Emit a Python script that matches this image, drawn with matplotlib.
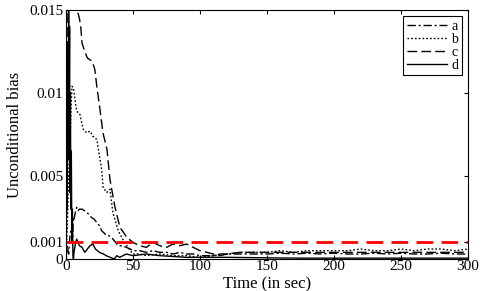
import numpy as np
import matplotlib
matplotlib.use("Agg")
import matplotlib.pyplot as plt

plt.rcParams['font.family'] = ['Liberation Serif', 'DejaVu Serif']

# curve a (dash-dot)
t_a = [0, 1, 2, 3, 4, 5, 5.5, 6, 7, 8, 9, 10, 12, 14, 15.4, 17, 19, 21, 23, 25, 26.6, 28, 30.4, 32, 34, 36, 39,
       42, 45, 48, 50, 55, 60, 65, 70, 75, 80, 85, 90, 95, 100, 105, 110, 115, 120, 125, 130, 140, 150, 160,
       170, 180, 190, 200, 210, 220, 230, 240, 250, 260, 270, 280, 290, 300]
v_a = [0, 0.0008, 0.0003, 0.0014, 0.0018, 0.0012, 0.0025, 0.0024, 0.0028, 0.0031, 0.0029, 0.0030, 0.0030,
       0.0029, 0.0028, 0.0027, 0.0025, 0.0024, 0.0022, 0.0020, 0.0017, 0.0016, 0.0014, 0.0014, 0.0013, 0.0011,
       0.0008, 0.0008, 0.0007, 0.0006, 0.0005, 0.0005, 0.0004, 0.0005, 0.0004, 0.0004, 0.0003, 0.0004, 0.0003,
       0.0003, 0.0002, 0.0002, 0.0002, 0.0003, 0.0003, 0.0003, 0.0003, 0.0003, 0.0003, 0.00035, 0.0003,
       0.00035, 0.0003, 0.00035, 0.0003, 0.0003, 0.00035, 0.0003, 0.00035, 0.0003, 0.0003, 0.00035, 0.0003, 0.0003]

# curve b (dotted)
t_b = [0, 1, 2, 3, 4, 4.5, 5.6, 6.7, 8, 10.4, 12.9, 15.4, 18, 20, 23, 25, 26.6, 27.8, 30.4, 32.8, 35, 39, 43,
       48, 50, 55, 60, 70, 80, 90, 100, 110, 120, 130, 140, 150, 160, 170, 180, 190, 200, 210, 220, 230, 240,
       250, 260, 270, 280, 290, 300]
v_b = [0, 0.002, 0.005, 0.007, 0.0095, 0.0104, 0.0103, 0.0096, 0.0089, 0.0087, 0.0078, 0.0076, 0.0077, 0.0074,
       0.0072, 0.0062, 0.0054, 0.0043, 0.0040, 0.0042, 0.0028, 0.0017, 0.0011, 0.0005, 0.0003, 0.0003, 0.0002,
       0.0003, 0.0002, 0.0002, 0.0001, 0.0002, 0.0003, 0.0004, 0.0004, 0.0004, 0.0005, 0.0004, 0.0005, 0.0005,
       0.0005, 0.0005, 0.0006, 0.0005, 0.0005, 0.0006, 0.0005, 0.0006, 0.0006, 0.0005, 0.0006]

# curve c (dashed)
t_c = [0, 0.5, 1, 1.5, 2, 3, 4, 5, 7, 9, 10, 11, 12, 14, 16, 18, 19.4, 20, 21.6, 23, 25.4, 27.6, 30.6, 32.8,
       36.6, 40.3, 45.5, 50, 55, 60, 65, 70, 75, 80, 85, 90, 95, 100, 105, 110, 115, 120, 130, 140, 150, 160,
       170, 180, 190, 200, 210, 220, 230, 240, 250, 260, 270, 280, 290, 300]
v_c = [0, 0.002, 0.008, 0.015, 0.016, 0.0158, 0.0153, 0.015, 0.0158, 0.0148, 0.0145, 0.014, 0.013, 0.0125,
       0.0121, 0.0120, 0.0119, 0.0118, 0.0114, 0.0104, 0.0090, 0.0076, 0.0066, 0.0048, 0.0031, 0.0019, 0.0013,
       0.0010, 0.0008, 0.0007, 0.0010, 0.0008, 0.0007, 0.0009, 0.0008, 0.0009, 0.0007, 0.0005, 0.0004, 0.0003,
       0.0002, 0.0003, 0.0004, 0.0004, 0.0004, 0.0004, 0.0004, 0.0004, 0.0004, 0.0004, 0.0004, 0.0004,
       0.0004, 0.0004, 0.0004, 0.0004, 0.0004, 0.0004, 0.0004, 0.0004]

# curve d (solid)
t_d = [0, 0.3, 0.6, 1, 1.3, 1.6, 2, 2.3, 2.7, 3, 3.3, 3.7, 4, 4.4, 4.8, 5.2, 5.6, 6, 7, 8, 10, 12, 14, 16, 18,
       20, 22, 25, 28, 30, 33, 36, 38, 40, 45, 50, 60, 70, 80, 90, 100, 120, 140, 160, 180, 200, 220, 240, 260,
       280, 300]
v_d = [0, 0.005, 0.0115, 0.003, 0.013, 0.006, 0.015, 0.008, 0.014, 0.004, 0.010, 0.003, 0.0065, 0.001, 0.003,
       0.0002, 0.0, 0.0004, 0.0009, 0.0012, 0.0008, 0.0007, 0.0004, 0.0006, 0.0008, 0.0009, 0.0006, 0.0004,
       0.0003, 0.0002, 0.0001, 0.0, 0.0002, 0.0001, 0.0003, 0.0002, 0.0003, 0.0002, 0.00015, 0.0001, 0.0001,
       0.0001, 0.00008, 0.00006, 0.00005, 0.00005, 0.00005, 0.00005, 0.00005, 0.00005, 0.00005]

threshold = 0.001

fig = plt.figure(figsize=(4.85, 2.91), dpi=100)
ax = fig.add_axes([0.136, 0.110, 0.829, 0.856])

ax.plot(t_a, v_a, color='k', lw=1.0, linestyle=(0, (6, 2, 1.5, 2)), label='a')
ax.plot(t_b, v_b, color='k', lw=1.0, linestyle=(0, (1.2, 1.5)), label='b')
ax.plot(t_c, v_c, color='k', lw=1.0, linestyle=(0, (7, 3)), label='c')
ax.plot(t_d, v_d, color='k', lw=1.0, linestyle='-', label='d')
ax.axhline(threshold, color='red', lw=2.0, linestyle=(0, (6, 3)))

ax.set_xlim(0, 300)
ax.set_ylim(0, 0.015)
ax.set_xticks([0, 50, 100, 150, 200, 250, 300])
ax.set_yticks([0, 0.001, 0.005, 0.01, 0.015])
ax.set_yticklabels(['0', '0.001', '0.005', '0.01', '0.015'])
ax.tick_params(direction='in', top=True, right=True, labelsize=11, length=3, pad=2)
ax.tick_params(axis='x', pad=1)
ax.set_xlabel('Time (in sec)', fontsize=12, labelpad=2)
ax.set_ylabel('Unconditional bias', fontsize=12, labelpad=4)

leg = ax.legend(loc='upper right', fontsize=10, handlelength=2.9, labelspacing=0.0,
                borderpad=0.25, handletextpad=0.3, fancybox=False, framealpha=1,
                borderaxespad=0.45)
leg.get_frame().set_edgecolor('k')
leg.get_frame().set_linewidth(0.8)

fig.savefig('out.png', dpi=100)
